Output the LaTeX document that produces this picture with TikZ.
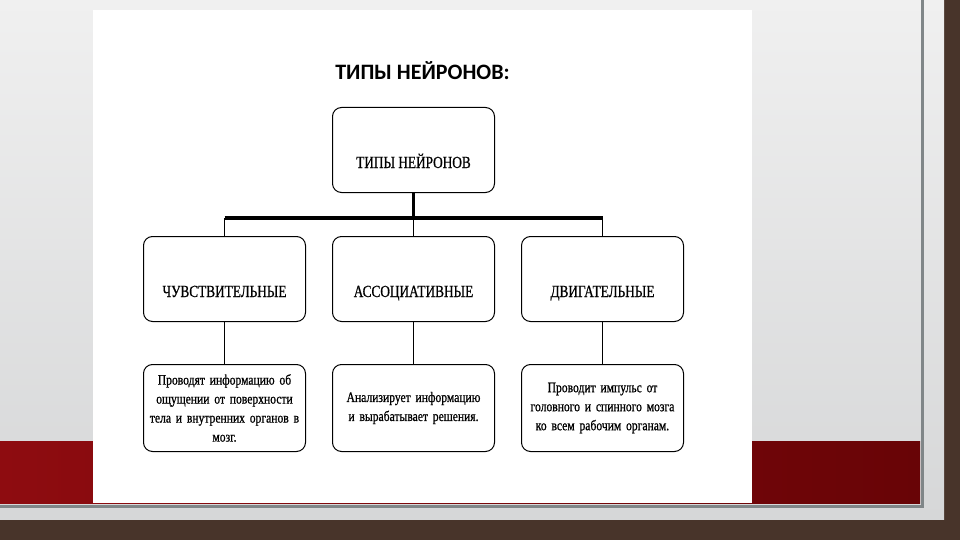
\documentclass[tikz,border=0pt]{standalone}
\usepackage{fontspec}
\setmainfont{Liberation Serif}[FakeStretch=0.78, FakeBold=0.8]
\newfontfamily\notefont{Liberation Serif}[FakeStretch=0.8, FakeBold=0.8]
\newfontfamily\headfont{Carlito}
\usepackage{xcolor}
\usetikzlibrary{shapes}
\definecolor{brick}{RGB}{72,52,42}
\definecolor{slidetop}{RGB}{240,240,240}
\definecolor{slidelow}{RGB}{214,215,216}
\definecolor{frameline}{RGB}{128,134,136}
\definecolor{bandred}{RGB}{142,12,16}
\definecolor{banddark}{RGB}{104,4,6}
\tikzstyle{block} = [rectangle, draw, line width=1pt, fill=white, minimum width=162pt,
    minimum height=85pt, rounded corners=9pt, text centered,
    font=\fontsize{17}{20}\selectfont, text height=36pt, text depth=0pt]
\tikzstyle{note} = [rectangle, draw, line width=1pt, fill=white, minimum width=162pt,
    minimum height=87pt, rounded corners=9pt, inner xsep=2pt, text width=158pt, align=center,
    font=\notefont\fontsize{14.5}{19}\selectfont]
\tikzstyle{heading} = [font=\headfont\bfseries\fontsize{22}{26}\selectfont]
\tikzstyle{line} = [draw, line width=1.6pt]
\tikzstyle{stem} = [draw, line width=3pt]
\tikzstyle{bar} = [draw, line width=4.5pt]

\begin{document}
\begin{tikzpicture}[x=1pt, y=-1pt, node distance=129pt]
			\useasboundingbox (0,0) rectangle (960,540);
			% slide behind the sheet
			\fill [brick] (0,0) rectangle (960,540);
			\shade [top color=slidetop, bottom color=slidelow] (0,0) rectangle (944,519);
			\shade [left color=bandred, right color=banddark] (0,441) rectangle (920,503);
			\draw [frameline, line width=3pt] (922,0) -- (922,506) -- (0,506);
			\fill [white] (93,10) rectangle (752,503);
			%
			\node [block] (types) at (413.5,150) {ТИПЫ НЕЙРОНОВ};
			\node [heading, above of=types, node distance=79pt, xshift=9pt] (title) {ТИПЫ НЕЙРОНОВ:};
			\node [block, below of=types] (assoc) {АССОЦИАТИВНЫЕ};
			\node [block, left of=assoc, node distance=189pt] (sens) {ЧУВСТВИТЕЛЬНЫЕ};
			\node [block, right of=assoc, node distance=189pt] (motor) {ДВИГАТЕЛЬНЫЕ};

			\node [note, below of=sens] (sensText) {Проводят информацию об\\ ощущении от поверхности\\ тела и внутренних органов в\\ мозг.};
			\node [note, below of=assoc] (assocText) {Анализирует информацию\\ и вырабатывает решения.};
			\node [note, below of=motor] (motorText) {Проводит импульс от\\ головного и спинного мозга\\ ко всем рабочим органам.};

			\coordinate [above of=assoc, node distance=61pt] (bus);

			% Draw edges
			\path [stem] (types) -- (bus);
			\path [bar] (sens.north |- bus) -- (motor.north |- bus);
			\path [line] (sens.north |- bus) -- (sens);
			\path [line] (bus) -- (assoc);
			\path [line] (motor.north |- bus) -- (motor);

			\path [line] (sens) -- (sensText);
			\path [line] (assoc) -- (assocText);
			\path [line] (motor) -- (motorText);
%
	\end{tikzpicture}
\end{document}
